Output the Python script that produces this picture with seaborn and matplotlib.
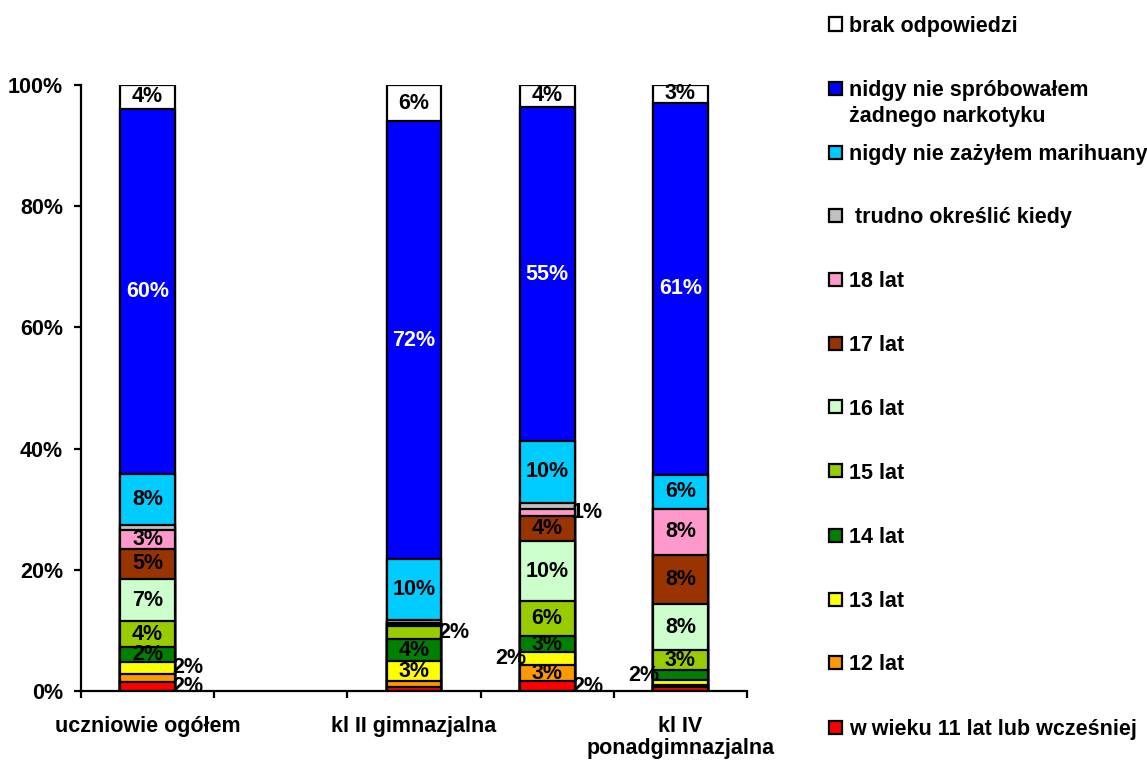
import numpy as np
import pandas as pd
import matplotlib
matplotlib.use("Agg")
import matplotlib.pyplot as plt
from matplotlib.patches import Rectangle
import seaborn as sns

# Series, bottom of the stack first
series = [
    "w wieku 11 lat lub wcześniej",
    "12 lat",
    "13 lat",
    "14 lat",
    "15 lat",
    "16 lat",
    "17 lat",
    "18 lat",
    " trudno określić kiedy",
    "nigdy nie zażyłem marihuany",
    "nidgy nie spróbowałem\nżadnego narkotyku",
    "brak odpowiedzi",
]
colors = [
    "#FF0000", "#FF9900", "#FFFF00", "#008000", "#99CC00", "#CCFFCC",
    "#993300", "#FF99CC", "#C0C0C0", "#00CCFF", "#0000FF", "#FFFFFF",
]

# Category slots on the x axis and their labels
tick_labels = ["uczniowie ogółem", "", "kl II gimnazjalna", "", "kl IV\nponadgimnazjalna"]

# Percentages per bar (same order as `series`)
uczniowie_ogolem = [1.5, 1.3, 2.0, 2.4, 4.3, 7.0, 5.0, 3.1, 0.8, 8.4, 60.3, 3.9]
kl_ii_gimnazjalna = [0.6, 1.0, 3.3, 3.7, 2.1, 0.4, 0.1, 0.1, 0.4, 10.0, 72.3, 6.0]
trzeci_slupek = [1.6, 2.7, 2.1, 2.7, 5.7, 9.9, 4.2, 1.2, 1.0, 10.1, 55.2, 3.6]
kl_iv_ponadgimnazjalna = [0.7, 0.3, 0.8, 1.6, 3.3, 7.6, 8.2, 7.6, 0.0, 5.6, 61.4, 2.9]

bars = {0: uczniowie_ogolem, 2: kl_ii_gimnazjalna, 3: trzeci_slupek, 4: kl_iv_ponadgimnazjalna}

# Where each value label goes: c = centred, r = right of bar, l = left of bar, "" = none
label_place = {
    0: ["r", "", "r", "c", "c", "c", "c", "c", "", "c", "c", "c"],
    2: ["", "", "c", "c", "r", "", "", "", "", "c", "c", "c"],
    3: ["r", "c", "l", "c", "c", "c", "c", "r", "", "c", "c", "c"],
    4: ["", "", "", "l", "c", "c", "c", "c", "", "c", "c", "c"],
}

rows = []
for slot, vals in bars.items():
    cum = np.cumsum(vals)
    for s, v, c in zip(series, vals, cum):
        rows.append({"slot": slot, "series": s, "value": v, "cum": c})
df = pd.DataFrame(rows)

sns.set_style("ticks")
plt.rcParams["font.family"] = ["Liberation Sans", "DejaVu Sans"]
plt.rcParams["font.weight"] = "bold"
plt.rcParams["text.color"] = "black"
plt.rcParams["xtick.color"] = "black"
plt.rcParams["ytick.color"] = "black"
plt.rcParams["xtick.labelcolor"] = "black"
plt.rcParams["ytick.labelcolor"] = "black"
FS = 15.5

W, H = 1147, 762
fig = plt.figure(figsize=(W / 100, H / 100), dpi=100)
ax = fig.add_axes([81 / W, 1 - 691 / H, (747 - 81) / W, (691 - 85) / H])

order = [0, 1, 2, 3, 4]
bw = 0.41
# stacked look: draw cumulative totals from the top series downwards
for i in range(len(series) - 1, -1, -1):
    sub = df[df["series"] == series[i]]
    sns.barplot(data=sub, x="slot", y="cum", order=order, color=colors[i],
                saturation=1, width=bw, edgecolor="black", linewidth=1.6,
                errorbar=None, ax=ax)

# value labels
half = bw / 2
for slot, vals in bars.items():
    cum = np.cumsum(vals)
    for i, (v, c) in enumerate(zip(vals, cum)):
        place = label_place[slot][i]
        if not place:
            continue
        txt = f"{int(np.floor(v + 0.5))}%"
        y = c - v / 2
        col = "white" if colors[i] == "#0000FF" else "black"
        if place == "c":
            ax.text(slot, y, txt, ha="center", va="center", fontsize=FS,
                    fontweight="bold", color=col)
        elif place == "r":
            ax.text(slot + half - 0.02, y, txt, ha="left", va="center",
                    fontsize=FS, fontweight="bold", color=col)
        else:
            ax.text(slot - half + 0.05, y, txt, ha="right", va="center",
                    fontsize=FS, fontweight="bold", color=col)

ax.set_xlim(-0.5, 4.5)
ax.set_ylim(0, 100)
ax.set_xlabel("")
ax.set_ylabel("")
yt = np.arange(0, 101, 20)
ax.set_yticks(yt)
ax.set_yticklabels([f"{t}%" for t in yt], fontsize=FS, fontweight="bold")
ax.set_xticks(np.arange(-0.5, 4.6, 1.0))
ax.set_xticklabels([])
ax.set_xticks(order, minor=True)
ax.set_xticklabels(tick_labels, minor=True, fontsize=FS, fontweight="bold",
                   va="top", linespacing=1.05)
ax.tick_params(axis="x", which="major", direction="out", length=5, width=1.6,
               color="black")
ax.tick_params(axis="x", which="minor", length=0, pad=18)
ax.tick_params(axis="y", direction="out", length=5, width=1.6, color="black",
               pad=8)
for side in ["top", "right"]:
    ax.spines[side].set_visible(False)
for side in ["left", "bottom"]:
    ax.spines[side].set_linewidth(1.6)
    ax.spines[side].set_color("black")
ax.grid(False)

# legend, top entry first
legend_y = [24, 88, 152, 215, 279, 343, 407, 471, 535, 599, 662, 727]
sq = 13
for k, i in enumerate(range(len(series) - 1, -1, -1)):
    yc = legend_y[k]
    fig.add_artist(Rectangle(((829) / W, 1 - (yc + sq / 2) / H), sq / W, sq / H,
                             transform=fig.transFigure, facecolor=colors[i],
                             edgecolor="black", linewidth=1.6))
    for j, line in enumerate(series[i].split("\n")):
        fig.text(849 / W, 1 - (yc + j * 26) / H, line, ha="left",
                 va="center_baseline", fontsize=FS, fontweight="bold")

fig.savefig("out.png", dpi=100, facecolor="white")
